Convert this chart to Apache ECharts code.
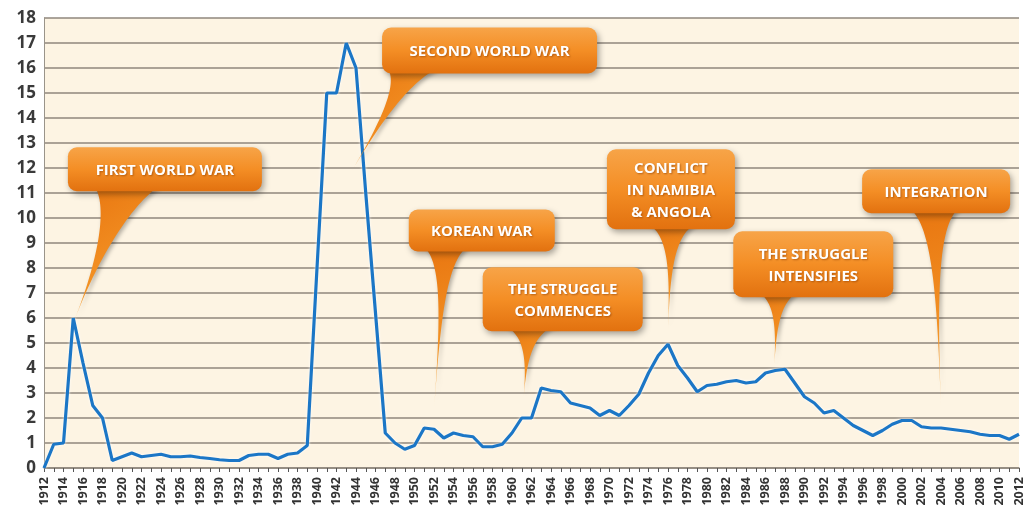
<!DOCTYPE html>
<html><head><meta charset="utf-8">
<script src="https://cdn.jsdelivr.net/npm/echarts@6/dist/echarts.min.js"></script>
<style>html,body{margin:0;padding:0;background:#fff}#c{width:1036px;height:523px}</style>
</head><body><div id="c"></div>
<script>
// ---------- DATA ----------
const years = ['1912','1913','1914','1915','1916','1917','1918','1919','1920','1921','1922','1923','1924','1925','1926','1927','1928','1929','1930','1931','1932','1933','1934','1935','1936','1937','1938','1939','1940','1941','1942','1943','1944','1945','1946','1947','1948','1949','1950','1951','1952','1953','1954','1955','1956','1957','1958','1959','1960','1961','1962','1963','1964','1965','1966','1967','1968','1969','1970','1971','1972','1973','1974','1975','1976','1977','1978','1979','1980','1981','1982','1983','1984','1985','1986','1987','1988','1989','1990','1991','1992','1993','1994','1995','1996','1997','1998','1999','2000','2001','2002','2003','2004','2005','2006','2007','2008','2009','2010','2011','2012'];
const values = [0,0.95,1.0,6.0,4.2,2.5,2.0,0.3,0.45,0.6,0.45,0.5,0.55,0.45,0.45,0.48,0.42,0.38,0.33,0.3,0.3,0.5,0.55,0.55,0.38,0.55,0.6,0.9,8.0,15.0,15.0,17.0,16.0,11.0,6.2,1.4,1.0,0.75,0.9,1.6,1.55,1.2,1.4,1.3,1.25,0.85,0.85,0.95,1.4,2.0,2.0,3.2,3.1,3.05,2.6,2.5,2.4,2.1,2.3,2.1,2.5,2.95,3.8,4.5,4.95,4.1,3.6,3.05,3.3,3.35,3.45,3.5,3.4,3.45,3.8,3.9,3.95,3.4,2.85,2.6,2.2,2.3,2.0,1.7,1.5,1.3,1.5,1.75,1.9,1.9,1.65,1.6,1.6,1.55,1.5,1.45,1.35,1.3,1.3,1.15,1.35];
const yMin = 0, yMax = 18, yStep = 1;
// annotation texts and the point each pointer aims at (year, value)
const noteTexts = ['FIRST WORLD WAR','SECOND WORLD WAR','KOREAN WAR','THE STRUGGLE\nCOMMENCES','CONFLICT\nIN NAMIBIA\n& ANGOLA','THE STRUGGLE\nINTENSIFIES','INTEGRATION'];
const noteTipYears = [1915.2, 1943.6, 1952.0, 1961.2, 1976.0, 1986.9, 2004.0];
const noteTipValues = [6.0, 11.9, 2.3, 2.85, 5.5, 4.05, 2.3];

// ---------- LAYOUT (box centre in data space, size in px, tail base offsets from box left, tail shape) ----------
const noteLayout = [
  {cx:1924.4, cy:11.95, w:194, h:44, b1:24, b2:96, k1:0.10, k2:0.45, s:0.45},
  {cx:1957.7, cy:16.7,  w:215, h:46, b1:2,  b2:62, k1:0.10, k2:0.45, s:0.25},
  {cx:1956.9, cy:9.5,   w:146, h:42, b1:10, b2:64, k1:0.06, k2:0.40, s:0.10},
  {cx:1965.2, cy:6.75,  w:160, h:64, b1:14, b2:80, k1:0.08, k2:0.45, s:0.15},
  {cx:1976.3, cy:11.15, w:128, h:80, b1:34, b2:96, k1:0.06, k2:0.40, s:0.12},
  {cx:1990.9, cy:8.15,  w:160, h:66, b1:18, b2:72, k1:0.08, k2:0.45, s:0.12},
  {cx:2003.5, cy:11.07, w:148, h:44, b1:42, b2:102,k1:0.05, k2:0.40, s:0.10}
];

const chart = echarts.init(document.getElementById('c'), null, {renderer:'canvas'});
const option = {
  animation:false,
  backgroundColor:'#ffffff',
  grid:{left:44,right:17,top:18,bottom:55,show:true,backgroundColor:'#fdf4e3',borderWidth:0},
  xAxis:{
    type:'category', data:years, boundaryGap:false,
    axisLine:{show:true,lineStyle:{color:'#8f877c',width:1.5}},
    axisTick:{show:true,interval:0,length:4,lineStyle:{color:'#555'}},
    axisLabel:{interval:1,rotate:90,fontSize:12.5,fontWeight:'bold',color:'#333',margin:9,fontFamily:'"Liberation Sans Narrow","Open Sans", sans-serif'},
    splitLine:{show:false}
  },
  yAxis:{
    type:'value', min:yMin, max:yMax, interval:yStep,
    axisLine:{show:true,lineStyle:{color:'#9a948a',width:1}},
    axisTick:{show:false},
    axisLabel:{fontSize:17,fontWeight:'bold',color:'#3a3a3a',margin:8,fontFamily:'"Open Sans", sans-serif'},
    splitLine:{show:true,lineStyle:{color:'#8f877c',width:1.5}}
  },
  series:[{
    type:'line', data:values, symbol:'none', smooth:false,
    lineStyle:{color:'#1b76c6',width:3.2,shadowColor:'rgba(255,255,255,0.9)',shadowBlur:3},
    z:3
  }]
};
chart.setOption(option);

// pixel mapping for fractional years
const pA = chart.convertToPixel({gridIndex:0},[0,yMin]);
const pB = chart.convertToPixel({gridIndex:0},[years.length-1,yMax]);
const y0 = +years[0], yN = +years[years.length-1];
function px(yr,v){
  return [pA[0]+(yr-y0)/(yN-y0)*(pB[0]-pA[0]), pA[1]+(v-yMin)/(yMax-yMin)*(pB[1]-pA[1])];
}
function cubic(p0,c1,c2,p1,n){
  const out=[];
  for(let i=0;i<=n;i++){const t=i/n,u=1-t;
    out.push([u*u*u*p0[0]+3*u*u*t*c1[0]+3*u*t*t*c2[0]+t*t*t*p1[0], u*u*u*p0[1]+3*u*u*t*c1[1]+3*u*t*t*c2[1]+t*t*t*p1[1]]);}
  return out;
}
const graphics=[];
noteTexts.forEach((txt,i)=>{
  const L=noteLayout[i];
  const c=px(L.cx,L.cy);
  const left=c[0]-L.w/2, top=c[1]-L.h/2, bottom=top+L.h;
  const T=px(noteTipYears[i],noteTipValues[i]);
  const B1=[left+L.b1,bottom-8], B2=[left+L.b2,bottom-8];
  const M=[(B1[0]+B2[0])/2,(B1[1]+B2[1])/2];
  const A1=[M[0]+L.k1*(T[0]-M[0]),M[1]+L.k1*(T[1]-M[1])];
  const A2=[M[0]+L.k2*(T[0]-M[0]),M[1]+L.k2*(T[1]-M[1])];
  const C1a=[A1[0]+(B1[0]-M[0])*L.s,A1[1]+(B1[1]-M[1])*L.s];
  const C1b=[A1[0]+(B2[0]-M[0])*L.s,A1[1]+(B2[1]-M[1])*L.s];
  const pts=cubic(B1,C1a,A2,T,36).concat(cubic(T,A2,C1b,B2,36).slice(1));
  graphics.push({type:'polygon',z:10,shape:{points:pts},
    style:{fill:new echarts.graphic.LinearGradient(0,0,1,1,[{offset:0,color:'#e8740f'},{offset:0.6,color:'#f39224'},{offset:1,color:'#f8b24a'}]),
      shadowColor:'rgba(0,0,0,0.3)',shadowBlur:4,shadowOffsetX:2,shadowOffsetY:2}});
  graphics.push({type:'rect',z:11,shape:{x:left,y:top,width:L.w,height:L.h,r:9},
    style:{fill:new echarts.graphic.LinearGradient(0,0,0,1,[{offset:0,color:'#f7a448'},{offset:0.5,color:'#f48e25'},{offset:1,color:'#e2710f'}]),
      shadowColor:'rgba(0,0,0,0.35)',shadowBlur:6,shadowOffsetX:2,shadowOffsetY:3}});
  graphics.push({type:'text',z:12,x:c[0],y:c[1]+1,
    style:{text:txt,fill:'#ffffff',font:'bold 15px "Liberation Sans Narrow","Open Sans",sans-serif',
      align:'center',verticalAlign:'middle',lineHeight:22,
      textShadowColor:'rgba(140,60,0,0.6)',textShadowBlur:2,textShadowOffsetX:1,textShadowOffsetY:1}});
});
chart.setOption({graphic:graphics});
</script></body></html>
